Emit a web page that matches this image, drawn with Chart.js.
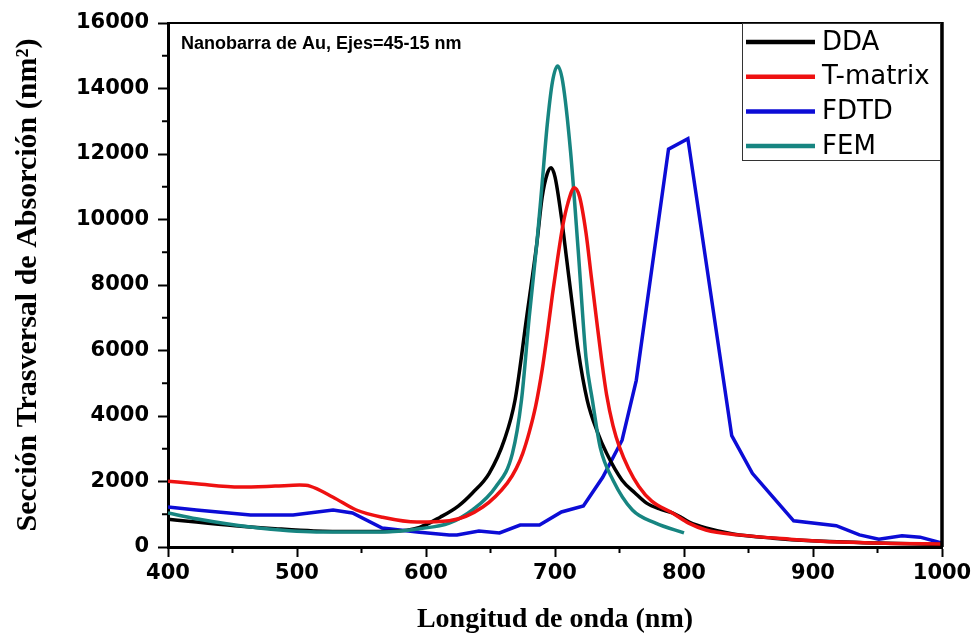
<!DOCTYPE html>
<html>
<head>
<meta charset="utf-8">
<script src="https://cdn.jsdelivr.net/npm/chart.js@4.4.0/dist/chart.umd.min.js"></script>
<style>
html, body { margin:0; padding:0; background:#fff; }
#wrap { width:973px; height:637px; }
</style>
</head>
<body>
<div id="wrap"><canvas id="absChart" width="973" height="637"></canvas></div>
<script>

/* ==========================================================
   DATA
========================================================== */

const ddaX = [400,422,452,483,513,544,574,595,611,625,636,649,661,669,678,686,690,694,697,700,705,709,713,718,725,733,740,752,762,771,782,791,798,804,817,838,869,899,950,1000];
const ddaY = [850,760,650,560,490,470,480,600,910,1250,1650,2250,3300,4480,7010,9300,10670,11400,11580,11300,10060,8800,7530,6000,4480,3500,2860,2040,1650,1340,1150,1040,900,760,580,400,270,190,120,80];

const tmatX = [400,422,456,483,502,510,528,546,566,593,618,644,663,670,675,680,685,690,694,698,702,706,710,715,719,724,728,732,736,740,745,750,757,765,775,791,804,817,842,882,921,960,1000];
const tmatY = [2010,1930,1830,1860,1890,1860,1520,1130,910,760,800,1220,1950,2400,2860,3500,4300,5400,6500,7700,8800,9800,10500,10970,10700,9600,8300,7010,5750,4650,3700,3050,2400,1850,1400,1040,720,520,370,240,150,110,90];

const fdtdX = [400,422,464,497,528,543,566,595,618,624,641,657,673,688,705,722,737,752,763,788,803,837,853,869,885,918,936,951,969,983,1000];
const fdtdY = [1220,1130,975,975,1130,1040,580,450,370,370,490,430,670,670,1070,1250,2130,3260,5090,12150,12470,3400,2250,1520,800,650,370,240,340,300,120];

const femX = [400,422,464,515,566,595,618,636,654,667,674,680,686,690,694,698,702,706,712,718,724,729,735,745,760,778,800];
const femY = [1040,860,610,460,460,560,730,1130,1830,2860,4480,7010,9300,11090,12900,14200,14690,14200,12100,9050,5800,4480,3050,2040,1130,730,430];

const seriesNames = ["DDA","T-matrix","FDTD","FEM"];

const xTickValues = [400,500,600,700,800,900,1000];
const xMinorTicks = [450,550,650,750,850,950];
const yTickValues = [0,2000,4000,6000,8000,10000,12000,14000,16000];
const yMinorTicks = [1000,3000,5000,7000,9000,11000,13000,15000];

const plotTitle = "Nanobarra de Au, Ejes=45-15 nm";


/* ==========================================================
   COLOURS
========================================================== */

const seriesColours = [
    "#000000",
    "#ee1111",
    "#0c0cd6",
    "#178581"
];


/* ==========================================================
   HELPERS
========================================================== */

function toPoints(xs, ys){
    return xs.map((x,i)=>({x:x, y:ys[i]}));
}


/* ==========================================================
   FRAME, MINOR TICKS, LEGEND, INNER TITLE
========================================================== */

const framePlugin = {

    id:"frame",

    afterDatasetsDraw(chart){

        const ctx = chart.ctx;
        const a = chart.chartArea;
        const sx = chart.scales.x;
        const sy = chart.scales.y;

        ctx.save();

        // minor ticks
        ctx.strokeStyle = "#000";
        ctx.lineWidth = 2;

        yMinorTicks.forEach(v=>{
            const y = sy.getPixelForValue(v);
            ctx.beginPath();
            ctx.moveTo(a.left-6, y);
            ctx.lineTo(a.left, y);
            ctx.stroke();
        });

        xMinorTicks.forEach(v=>{
            const x = sx.getPixelForValue(v);
            ctx.beginPath();
            ctx.moveTo(x, a.bottom);
            ctx.lineTo(x, a.bottom+6);
            ctx.stroke();
        });

        // top and right frame
        ctx.lineWidth = 2;
        ctx.beginPath();
        ctx.moveTo(a.left, a.top);
        ctx.lineTo(a.right, a.top);
        ctx.stroke();

        ctx.lineWidth = 3.5;
        ctx.beginPath();
        ctx.moveTo(a.right, a.top-1);
        ctx.lineTo(a.right, a.bottom);
        ctx.stroke();

        // legend box
        const boxL = 742;
        const boxB = 160;

        ctx.fillStyle = "#fff";
        ctx.fillRect(boxL, a.top+1, a.right-boxL-2, boxB-a.top-1);

        ctx.strokeStyle = "#333";
        ctx.lineWidth = 1;
        ctx.strokeRect(boxL+0.5, a.top+0.5, a.right-boxL-2, boxB-a.top);

        ctx.font = "26px 'DejaVu Sans'";
        ctx.textBaseline = "middle";
        ctx.textAlign = "left";

        chart.data.datasets.forEach((ds,i)=>{
            const y = 42 + i*34.7;
            ctx.strokeStyle = ds.borderColor;
            ctx.lineWidth = 4.5;
            ctx.beginPath();
            ctx.moveTo(746, y);
            ctx.lineTo(815, y);
            ctx.stroke();
            ctx.fillStyle = "#000";
            ctx.fillText(ds.label, 822, y+1);
        });

        // title inside plot
        ctx.font = "bold 18px 'Liberation Sans'";
        ctx.fillStyle = "#000";
        ctx.fillText(plotTitle, 181, 44);

        ctx.restore();

    }

};


/* ==========================================================
   CHART
========================================================== */

Chart.defaults.font.family = "'DejaVu Sans', sans-serif";
Chart.defaults.color = "#000";

const ctx = document.getElementById("absChart").getContext("2d");

const seriesX = [ddaX, tmatX, fdtdX, femX];
const seriesY = [ddaY, tmatY, fdtdY, femY];

const absChart = new Chart(ctx, {

    type:"line",

    data:{
        datasets: seriesNames.map((name,i)=>({
            label:name,
            data:toPoints(seriesX[i], seriesY[i]),
            borderColor:seriesColours[i],
            borderWidth:3.5,
            pointRadius:0,
            fill:false,
            cubicInterpolationMode: name==="FDTD" ? "default" : "monotone",
            tension: name==="FDTD" ? 0 : 0.4,
            order: name==="FDTD" ? 3 : (name==="DDA" ? 2 : 1)
        }))
    },

    options:{
        responsive:false,
        animation:false,
        layout:{ padding:{ left:0, right:31, top:23, bottom:0 } },
        plugins:{
            legend:{ display:false },
            tooltip:{ enabled:false }
        },
        scales:{
            x:{
                type:"linear",
                min:400,
                max:1000,
                afterBuildTicks:(s)=>{ s.ticks = xTickValues.map(v=>({value:v})); },
                afterFit:(s)=>{ s.height = 90; s.paddingRight = 0; s.paddingLeft = 0; },
                border:{ display:true, color:"#000", width:3 },
                grid:{ drawOnChartArea:false, drawTicks:true, tickLength:10, tickWidth:2, color:"#000" },
                ticks:{
                    font:{ size:21, weight:"bold" },
                    padding:4,
                    maxRotation:0,
                    color:"#000",
                    callback:(v)=>String(v)
                },
                title:{
                    display:true,
                    text:"Longitud de onda (nm)",
                    font:{ family:"'Liberation Serif'", size:28, weight:"bold" },
                    padding:{ top:0, bottom:0 },
                    color:"#000"
                }
            },
            y:{
                type:"linear",
                min:0,
                max:16000,
                afterBuildTicks:(s)=>{ s.ticks = yTickValues.map(v=>({value:v})); },
                afterFit:(s)=>{ s.width = 168; },
                border:{ display:true, color:"#000", width:3 },
                grid:{ drawOnChartArea:false, drawTicks:true, tickLength:10, tickWidth:2, color:"#000" },
                ticks:{
                    font:{ size:21, weight:"bold" },
                    padding:9,
                    color:"#000",
                    callback:(v)=>String(v)
                },
                title:{
                    display:true,
                    text:"Sección Trasversal de Absorción (nm²)",
                    font:{ family:"'Liberation Serif'", size:30, weight:"bold" },
                    padding:{ top:10, bottom:0 },
                    color:"#000"
                }
            }
        }
    },

    plugins:[framePlugin]

});

</script>
</body>
</html>
